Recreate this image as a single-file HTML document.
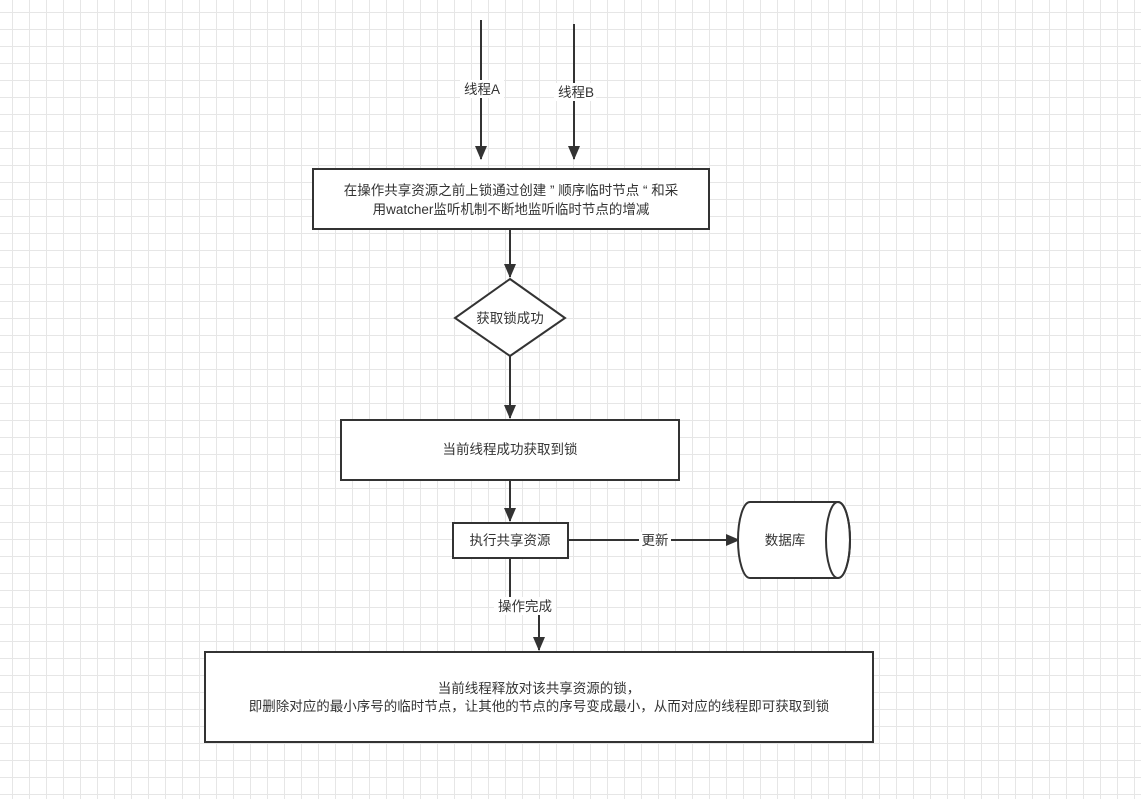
<!DOCTYPE html>
<html><head><meta charset="utf-8"><style>
html,body{margin:0;padding:0;}
body{width:1141px;height:799px;overflow:hidden;background-color:#fff;
background-image:linear-gradient(#e6e6e6 1px,transparent 1px),linear-gradient(90deg,#e6e6e6 1px,transparent 1px);
background-size:17px 17px;background-position:-5px -5px;
font-family:"Liberation Sans","Noto Sans CJK SC",sans-serif;}
svg{position:absolute;left:0;top:0;}
text{font-family:"Liberation Sans","Noto Sans CJK SC",sans-serif;font-size:13.5px;fill:#333;}
</style></head><body>
<svg width="1141" height="799" viewBox="0 0 1141 799">
<defs><marker id="a" markerWidth="14" markerHeight="14" refX="13" refY="6" orient="auto" markerUnits="userSpaceOnUse"><path d="M0,0 L14,6 L0,12 Z" fill="#333"/></marker></defs>
<g stroke="#333" stroke-width="2" fill="none">
<line x1="481" y1="20" x2="481" y2="159" marker-end="url(#a)"/>
<line x1="574" y1="24" x2="574" y2="159" marker-end="url(#a)"/>
<rect x="313" y="169" width="396" height="60" fill="#fff"/>
<line x1="510" y1="229" x2="510" y2="277" marker-end="url(#a)"/>
<polygon points="510,279 565,318 510,356 455,318" fill="#fff"/>
<line x1="510" y1="356" x2="510" y2="418" marker-end="url(#a)"/>
<rect x="341" y="420" width="338" height="60" fill="#fff"/>
<line x1="510" y1="480" x2="510" y2="521" marker-end="url(#a)"/>
<rect x="453" y="523" width="115" height="35" fill="#fff"/>
<line x1="568" y1="540" x2="739" y2="540" marker-end="url(#a)"/>
<path d="M750,502 L838,502 A12,38 0 0 1 838,578 L750,578 A12,38 0 0 1 750,502 Z" fill="#fff"/>
<ellipse cx="838" cy="540" rx="12" ry="38"/>
<path d="M510,558 L510,606 L539,606 L539,650" marker-end="url(#a)"/>
<rect x="205" y="652" width="668" height="90" fill="#fff"/>
</g>
<rect x="460" y="80" width="44" height="18" fill="#fff"/>
<text x="482" y="94" text-anchor="middle">线程A</text>
<rect x="554" y="83" width="42" height="18" fill="#fff"/>
<text x="576" y="97" text-anchor="middle">线程B</text>
<text x="511" y="195" text-anchor="middle">在操作共享资源之前上锁通过创建 ” 顺序临时节点 “ 和采</text>
<text x="511" y="214" text-anchor="middle">用watcher监听机制不断地监听临时节点的增减</text>
<text x="510" y="323" text-anchor="middle">获取锁成功</text>
<text x="510" y="454" text-anchor="middle">当前线程成功获取到锁</text>
<text x="510" y="545" text-anchor="middle">执行共享资源</text>
<rect x="639" y="532" width="32" height="17" fill="#fff"/>
<text x="655" y="545" text-anchor="middle">更新</text>
<text x="785" y="545" text-anchor="middle">数据库</text>
<rect x="494" y="597" width="62" height="18" fill="#fff"/>
<text x="525" y="611" text-anchor="middle">操作完成</text>
<text x="539" y="693" text-anchor="middle">当前线程释放对该共享资源的锁，</text>
<text x="539" y="711" text-anchor="middle">即删除对应的最小序号的临时节点，让其他的节点的序号变成最小，从而对应的线程即可获取到锁</text>
</svg>
</body></html>
